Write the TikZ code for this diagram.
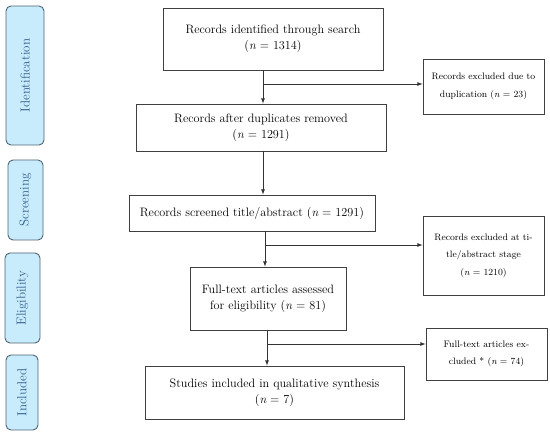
\documentclass[tikz,border=0pt]{standalone}
\usepackage{tikz}
\usetikzlibrary{shapes,arrows,positioning}
\definecolor{phasefill}{HTML}{C9ECFC}
\definecolor{phaseline}{HTML}{4E6472}
\definecolor{phasetext}{HTML}{2F5C8C}
\tikzstyle{rec}=[rectangle,draw=black!75,line width=0.8pt,align=center,font=\fontsize{12.2}{16}\selectfont,inner sep=2pt]
\tikzstyle{excl}=[rectangle,draw=black!75,line width=0.8pt,align=center,font=\fontsize{9.4}{17.5}\selectfont,minimum width=121pt,inner sep=2pt]
\tikzstyle{phase}=[rectangle,draw=phaseline,line width=0.9pt,rounded corners=5pt,fill=phasefill,rotate=90,text=phasetext,font=\fontsize{13}{15}\selectfont]
\tikzstyle{arr}=[-latex,line width=0.8pt,black!80]

\begin{document}
\begin{tikzpicture}[x=1pt,y=-1pt,node distance=86pt]
\useasboundingbox (0,0) rectangle (550,435);
% main stream
\node[rec,minimum width=220pt,minimum height=62pt] (A) at (273,39) {Records identified through search\\({\itshape n} = 1314)};
\node[rec,minimum width=250pt,minimum height=47pt,below of=A,xshift=-12pt,yshift=-2.5pt] (B) {Records after duplicates removed\\({\itshape n} = 1291)};
\node[rec,minimum width=246pt,minimum height=36pt,below of=B,xshift=-9pt,yshift=0.5pt] (C) {Records screened title/abstract ({\itshape n} = 1291)};
\node[rec,minimum width=156pt,minimum height=63pt,below of=C,xshift=16pt,yshift=0.5pt] (D) {Full-text articles assessed\\for eligibility ({\itshape n} = 81)};
\node[rec,minimum width=259pt,minimum height=53pt,below of=D,xshift=6.5pt,yshift=-8pt] (E) {Studies included in qualitative synthesis\\({\itshape n} = 7)};
% exclusions
\node[excl,minimum height=55pt] (X1) at (483.5,86.5) {Records excluded due to\\duplication ({\itshape n} = 23)};
\node[excl,minimum height=79pt] (X2) at (483.5,255.5) {Records excluded at ti-\\tle/abstract stage\\({\itshape n} = 1210)};
\node[excl,minimum height=52pt] (X3) at (486.5,354) {Full-text articles ex-\\cluded * ({\itshape n} = 74)};
% phases
\node[phase,minimum width=139pt,minimum height=38pt] (P1) at (25,75.5) {Identification};
\node[phase,minimum width=80pt,minimum height=35pt] (P2) at (25.5,200) {Screening};
\node[phase,minimum width=90pt,minimum height=35pt] (P3) at (22.5,298) {Eligibility};
\node[phase,minimum width=75pt,minimum height=32pt] (P4) at (22,392.5) {Included};
% arrows
\coordinate (s1) at (263,84);
\coordinate (s2) at (265,245);
\coordinate (s3) at (267,344);
\draw[arr] (A.south -| s1) -- (B.north -| s1);
\draw[arr] (B.south -| s1) -- (C.north -| s1);
\draw[arr] (C.south -| s2) -- (D.north -| s2);
\draw[arr] (D.south -| s3) -- (E.north -| s3);
\draw[arr] (s1) -- (s1 -| X1.west);
\draw[arr] (s2) -- (s2 -| X2.west);
\draw[arr] (s3) -- (s3 -| X3.west);
\end{tikzpicture}
\end{document}
